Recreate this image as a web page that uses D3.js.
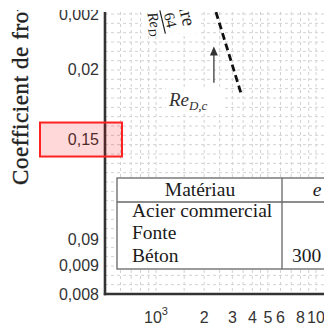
<!DOCTYPE html>
<html>
<head>
<meta charset="utf-8">
<script src="https://cdn.jsdelivr.net/npm/d3@7"></script>
<style>
  html, body { margin: 0; padding: 0; background: #fff; }
  svg { display: block; }
</style>
</head>
<body>
<div id="chart"></div>
<script>
// axis ticks and labels
const reTicks = [1000, 2000, 3000, 4000, 5000, 6000, 8000, 10000];
const reTickLabels = ["10^3", "2", "3", "4", "5", "6", "8", "10"];
const reGrid = [600, 700, 800, 900, 1000, 1500, 2000, 2500, 3000, 3500, 4000, 4500, 5000, 6000, 7000, 8000, 9000, 10000];
const fTicks = [0.025, 0.02, 0.015, 0.01, 0.009, 0.008];
const fTickLabels = ["0,002", "0,02", "0,15", "0,09", "0,009", "0,008"];
const highlightedLabel = "0,15";

// transition line, critical Reynolds arrow, laminar label anchor
const transitionRe = [2370, 3400];
const transitionF = [0.0252, 0.0181];
const criticalRe = 2300;
const arrowF = [0.0189, 0.0219];
const laminarRe = 1100;
const laminarF = 0.0242;

// roughness table
const tableHeader = ["Matériau", "e"];
const materials = ["Acier commercial", "Fonte", "Béton"];
const roughness = ["", "", "300"];

const width = 324, height = 326;
const plotLeft = 105, plotBottom = 294, plotTop = 12;
const serif = "'Liberation Serif', serif";
const sans = "'Liberation Sans', Arial, sans-serif";

const x = d3.scaleLog().domain([1000, 10000]).range([156, 316]);
const y = d3.scaleLog().domain([0.008, 0.025]).range([294, 14]);

const svg = d3.select("#chart").append("svg")
  .attr("width", width)
  .attr("height", height);

svg.append("clipPath").attr("id", "cut")
  .append("rect").attr("x", 0).attr("y", 10).attr("width", width).attr("height", height - 10);

const g = svg.append("g").attr("clip-path", "url(#cut)");

// grid
const grid = g.append("g")
  .attr("stroke", "#d2d2d2")
  .attr("stroke-width", 1)
  .attr("stroke-dasharray", "3,3");

grid.selectAll(".vgrid")
  .data(reGrid)
  .join("line")
  .attr("class", "vgrid")
  .attr("x1", d => x(d)).attr("x2", d => x(d))
  .attr("y1", plotTop).attr("y2", plotBottom);

const rows = d3.range(1, 31).map(i => y(0.008) + i * (y(0.025) - y(0.008)) / 30);
grid.selectAll(".hgrid")
  .data(rows)
  .join("line")
  .attr("class", "hgrid")
  .attr("x1", plotLeft).attr("x2", width)
  .attr("y1", d => d).attr("y2", d => d);

// laminar label (rotated), with white background
g.append("rect")
  .attr("x", 142).attr("y", 8).attr("width", 58).attr("height", 25)
  .attr("fill", "#fff");

const lam = g.append("g")
  .attr("transform", "translate(" + x(laminarRe) + "," + y(laminarF) + ") rotate(76.6)")
  .attr("fill", "#222")
  .attr("font-family", serif);

lam.append("line")
  .attr("x1", -12).attr("x2", 12)
  .attr("y1", 0).attr("y2", 0)
  .attr("stroke", "#222").attr("stroke-width", 1.2);

lam.append("text")
  .attr("x", 0).attr("y", -3)
  .attr("text-anchor", "middle")
  .attr("font-size", 15)
  .text("64");

const den = lam.append("text")
  .attr("x", 0).attr("y", 13)
  .attr("text-anchor", "middle")
  .attr("font-size", 15)
  .attr("font-style", "italic");
den.append("tspan").text("Re");
den.append("tspan").attr("font-size", 11).attr("dy", 3).text("D");

lam.append("text")
  .attr("x", 10).attr("y", -19)
  .attr("text-anchor", "end")
  .attr("font-size", 19)
  .text("Laminaire");

// transition line
const pts = transitionRe.map((r, i) => [x(r), y(transitionF[i])]);
g.append("path")
  .attr("d", d3.line()(pts))
  .attr("fill", "none")
  .attr("stroke", "#111")
  .attr("stroke-width", 2.8)
  .attr("stroke-dasharray", "7,4");

// critical Reynolds arrow
const ax = x(criticalRe);
g.append("line")
  .attr("x1", ax).attr("x2", ax)
  .attr("y1", y(arrowF[0])).attr("y2", y(arrowF[1]) + 8)
  .attr("stroke", "#555").attr("stroke-width", 1.5);
g.append("path")
  .attr("d", "M" + ax + "," + y(arrowF[1]) + "l-4,9l8,0z")
  .attr("fill", "#333");

g.append("rect")
  .attr("x", ax - 48).attr("y", y(arrowF[0]) + 5)
  .attr("width", 56).attr("height", 25)
  .attr("fill", "#fff");

const reLabel = g.append("text")
  .attr("x", ax - 45).attr("y", y(arrowF[0]) + 23)
  .attr("font-family", serif)
  .attr("font-style", "italic")
  .attr("font-size", 19)
  .attr("fill", "#333");
reLabel.append("tspan").text("Re");
reLabel.append("tspan").attr("font-size", 13).attr("dy", 4).text("D,c");

// table
const tb = g.append("g").attr("font-family", serif).attr("fill", "#1a1a1a");
tb.append("rect")
  .attr("x", 117).attr("y", 178)
  .attr("width", 260).attr("height", 91)
  .attr("fill", "#fff")
  .attr("stroke", "#666").attr("stroke-width", 1.3);
tb.append("line")
  .attr("x1", 117).attr("x2", width)
  .attr("y1", 202).attr("y2", 202)
  .attr("stroke", "#666").attr("stroke-width", 1.3);
tb.append("line")
  .attr("x1", 282).attr("x2", 282)
  .attr("y1", 178).attr("y2", 269)
  .attr("stroke", "#666").attr("stroke-width", 1.3);

tb.append("text")
  .attr("x", 200).attr("y", 196)
  .attr("text-anchor", "middle")
  .attr("font-size", 19.5)
  .text(tableHeader[0]);
tb.append("text")
  .attr("x", 317).attr("y", 196)
  .attr("text-anchor", "middle")
  .attr("font-size", 19.5)
  .attr("font-style", "italic")
  .text(tableHeader[1]);

tb.selectAll(".mat")
  .data(materials)
  .join("text")
  .attr("class", "mat")
  .attr("x", 132)
  .attr("y", (d, i) => 217 + i * 22.3)
  .attr("font-size", 19.5)
  .text(d => d);

tb.selectAll(".rough")
  .data(roughness)
  .join("text")
  .attr("class", "rough")
  .attr("x", 292)
  .attr("y", (d, i) => 217 + i * 22.3)
  .attr("font-size", 19.5)
  .text(d => d);

// axes lines
g.append("line")
  .attr("x1", plotLeft).attr("x2", plotLeft)
  .attr("y1", plotTop).attr("y2", plotBottom + 1.2)
  .attr("stroke", "#333").attr("stroke-width", 2.6);
g.append("line")
  .attr("x1", plotLeft - 1.2).attr("x2", width)
  .attr("y1", plotBottom).attr("y2", plotBottom)
  .attr("stroke", "#333").attr("stroke-width", 2.6);

// y tick labels
g.selectAll(".ylab")
  .data(fTicks)
  .join("text")
  .attr("class", "ylab")
  .attr("x", plotLeft - 6)
  .attr("y", d => y(d))
  .attr("dy", "0.36em")
  .attr("text-anchor", "end")
  .attr("font-family", sans)
  .attr("font-size", 16)
  .attr("fill", "#333")
  .text((d, i) => fTickLabels[i]);

// x tick labels
const xl = g.selectAll(".xlab")
  .data(reTicks)
  .join("text")
  .attr("class", "xlab")
  .attr("x", d => x(d))
  .attr("y", 323)
  .attr("text-anchor", "middle")
  .attr("font-family", sans)
  .attr("font-size", 16)
  .attr("fill", "#333");
xl.each(function(d, i) {
  const parts = reTickLabels[i].split("^");
  const t = d3.select(this);
  t.append("tspan").text(parts[0]);
  if (parts[1]) t.append("tspan").attr("font-size", 11).attr("dy", -8).text(parts[1]);
});

// y title
g.append("text")
  .attr("transform", "translate(28,185) rotate(-90)")
  .attr("font-family", serif)
  .attr("font-size", 23)
  .attr("letter-spacing", 0.6)
  .attr("fill", "#222")
  .attr("stroke", "#222")
  .attr("stroke-width", 0.4)
  .text("Coefficient de frottement");

// highlighted tick label box
const hi = fTickLabels.indexOf(highlightedLabel);
g.append("rect")
  .attr("x", 40).attr("y", y(fTicks[hi]) - 17)
  .attr("width", 82).attr("height", 34)
  .attr("fill", "rgba(255,0,0,0.15)")
  .attr("stroke", "#f22").attr("stroke-width", 2);
</script>
</body>
</html>
